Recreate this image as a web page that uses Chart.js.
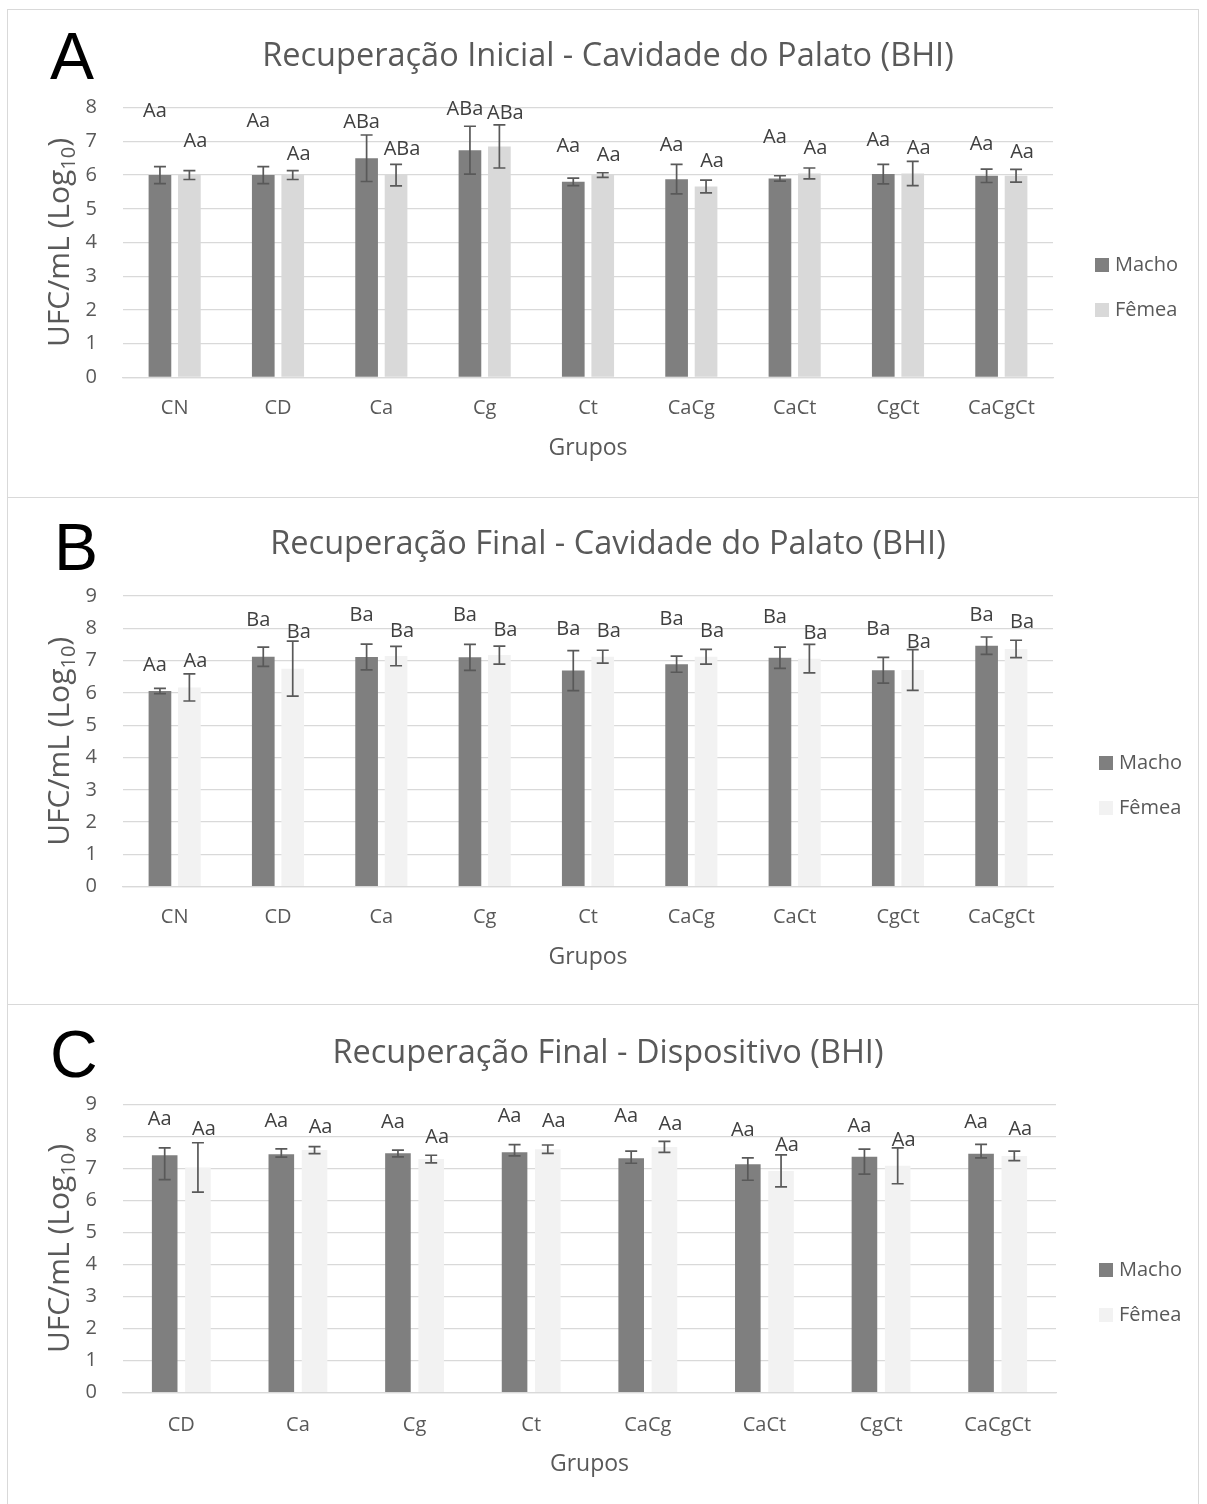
<!DOCTYPE html>
<html lang="pt">
<head>
<meta charset="utf-8">
<title>Recuperação - BHI</title>
<script src="https://cdn.jsdelivr.net/npm/chart.js@4.4.1/dist/chart.umd.min.js"></script>
<style>
  body { margin: 0; background: #fff; }
  #pagina { position: relative; width: 1207px; height: 1504px; overflow: hidden; background: #fff; }
  .painel { position: absolute; left: 7px; width: 1192px; border: 1px solid #d9d9d9; box-sizing: border-box; }
  .painel canvas { position: absolute; left: 0; top: 0; }
  .letra { position: absolute; font-family: "Liberation Sans", Arial, sans-serif; font-size: 66px; line-height: 1; color: #000; }
</style>
</head>
<body>
<div id="pagina">
  <div class="painel" style="top:9px;height:489px"><canvas id="grafA" width="1190" height="487"></canvas></div>
  <div class="painel" style="top:498px;height:507px;border-top:none"><canvas id="grafB" width="1190" height="506"></canvas></div>
  <div class="painel" style="top:1005px;height:520px;border-top:none"><canvas id="grafC" width="1190" height="499"></canvas></div>
  <div class="letra" style="left:50px;top:23px">A</div>
  <div class="letra" style="left:54px;top:514px">B</div>
  <div class="letra" style="left:50px;top:1021px">C</div>
</div>
<script>
// grupos
const gruposAB = ['CN', 'CD', 'Ca', 'Cg', 'Ct', 'CaCg', 'CaCt', 'CgCt', 'CaCgCt'];
const gruposC = ['CD', 'Ca', 'Cg', 'Ct', 'CaCg', 'CaCt', 'CgCt', 'CaCgCt'];

// A - Recuperação Inicial - Cavidade do Palato
const machoA = [6.0, 6.0, 6.5, 6.74, 5.8, 5.88, 5.9, 6.03, 5.98];
const femeaA = [6.0, 6.0, 6.0, 6.85, 6.0, 5.66, 6.05, 6.05, 5.98];
const machoErrA = [0.25, 0.25, 0.69, 0.71, 0.11, 0.44, 0.08, 0.29, 0.2];
const femeaErrA = [0.13, 0.13, 0.32, 0.64, 0.07, 0.19, 0.16, 0.36, 0.19];
const machoLetrasA = ['Aa', 'Aa', 'ABa', 'ABa', 'Aa', 'Aa', 'Aa', 'Aa', 'Aa'];
const femeaLetrasA = ['Aa', 'Aa', 'ABa', 'ABa', 'Aa', 'Aa', 'Aa', 'Aa', 'Aa'];
const machoLetraYA = [7.88, 7.59, 7.57, 7.95, 6.84, 6.87, 7.12, 7.02, 6.92];
const femeaLetraYA = [6.99, 6.63, 6.77, 7.83, 6.60, 6.42, 6.80, 6.80, 6.69];

// B - Recuperação Final - Cavidade do Palato
const machoB = [6.06, 7.12, 7.11, 7.10, 6.69, 6.89, 7.09, 6.70, 7.46];
const femeaB = [6.17, 6.75, 7.14, 7.17, 7.12, 7.12, 7.06, 6.71, 7.36];
const machoErrB = [0.08, 0.3, 0.4, 0.4, 0.62, 0.25, 0.33, 0.4, 0.27];
const femeaErrB = [0.42, 0.85, 0.3, 0.28, 0.2, 0.23, 0.44, 0.63, 0.27];
const machoLetrasB = ['Aa', 'Ba', 'Ba', 'Ba', 'Ba', 'Ba', 'Ba', 'Ba', 'Ba'];
const femeaLetrasB = ['Aa', 'Ba', 'Ba', 'Ba', 'Ba', 'Ba', 'Ba', 'Ba', 'Ba'];
const machoLetraYB = [6.86, 8.24, 8.41, 8.41, 7.97, 8.29, 8.33, 7.98, 8.41];
const femeaLetraYB = [6.97, 7.89, 7.92, 7.95, 7.92, 7.92, 7.86, 7.57, 8.19];

// C - Recuperação Final - Dispositivo
const machoC = [7.41, 7.44, 7.47, 7.50, 7.32, 7.13, 7.36, 7.46];
const femeaC = [7.03, 7.57, 7.29, 7.60, 7.67, 6.92, 7.08, 7.39];
const machoErrMenosC = [0.76, 0.09, 0.11, 0.11, 0.16, 0.50, 0.54, 0.13];
const machoErrMaisC = [0.23, 0.17, 0.10, 0.24, 0.22, 0.20, 0.24, 0.29];
const femeaErrC = [0.77, 0.11, 0.12, 0.13, 0.17, 0.5, 0.56, 0.15];
const letrasC = ['Aa', 'Aa', 'Aa', 'Aa', 'Aa', 'Aa', 'Aa', 'Aa'];
const machoLetraYC = [8.54, 8.48, 8.43, 8.64, 8.64, 8.18, 8.32, 8.43];
const femeaLetraYC = [8.22, 8.28, 7.97, 8.48, 8.39, 7.73, 7.89, 8.22];

Chart.defaults.font.family = "'Open Sans', sans-serif";
Chart.defaults.color = '#595959';

// barras de erro (desvio)
const barrasErro = {
  id: 'barrasErro',
  afterDatasetsDraw(chart) {
    const ctx = chart.ctx;
    const y = chart.scales.y;
    chart.data.datasets.forEach((ds, i) => {
      chart.getDatasetMeta(i).data.forEach((bar, j) => {
        const v = ds.data[j];
        const cima = y.getPixelForValue(v + ds.errMais[j]);
        const baixo = y.getPixelForValue(v - ds.errMenos[j]);
        ctx.save();
        ctx.strokeStyle = '#595959';
        ctx.lineWidth = 1.7;
        ctx.beginPath();
        ctx.moveTo(bar.x, cima); ctx.lineTo(bar.x, baixo);
        ctx.moveTo(bar.x - 6, cima); ctx.lineTo(bar.x + 6, cima);
        ctx.moveTo(bar.x - 6, baixo); ctx.lineTo(bar.x + 6, baixo);
        ctx.stroke();
        ctx.restore();
      });
    });
  }
};

// letras de significancia (macho um pouco a esquerda, femea a direita)
const letrasSig = {
  id: 'letrasSig',
  afterDatasetsDraw(chart, args, opts) {
    const ctx = chart.ctx;
    const y = chart.scales.y;
    ctx.save();
    ctx.font = "20px 'Open Sans'";
    ctx.fillStyle = '#404040';
    ctx.textAlign = 'center';
    ctx.textBaseline = 'middle';
    chart.data.datasets.forEach((ds, i) => {
      chart.getDatasetMeta(i).data.forEach((bar, j) => {
        ctx.fillText(ds.letras[j], bar.x + opts.desloc[i], y.getPixelForValue(ds.letraY[j]));
      });
    });
    ctx.restore();
  }
};

// legenda ao lado, como no excel
const legendaLateral = {
  id: 'legendaLateral',
  afterDraw(chart, args, opts) {
    const ctx = chart.ctx;
    const x = chart.chartArea.right + opts.dx;
    ctx.save();
    ctx.font = "20px 'Open Sans'";
    ctx.textBaseline = 'middle';
    chart.data.datasets.forEach((ds, i) => {
      const yy = opts.linhas[i];
      ctx.fillStyle = ds.backgroundColor;
      ctx.fillRect(x, yy - 7, 14, 14);
      ctx.fillStyle = '#595959';
      ctx.fillText(ds.label, x + 20, yy);
    });
    ctx.restore();
  }
};

// titulo do eixo y com subscrito
const tituloEixoY = {
  id: 'tituloEixoY',
  afterDraw(chart) {
    const {ctx, chartArea} = chart;
    const cx = chartArea.left - 64;
    const cy = (chartArea.top + chartArea.bottom) / 2;
    const fonte = "30px 'Open Sans'", fonteSub = "20px 'Open Sans'";
    ctx.save();
    ctx.font = fonte;
    const w1 = ctx.measureText('UFC/mL (Log').width;
    const w3 = ctx.measureText(')').width;
    ctx.font = fonteSub;
    const w2 = ctx.measureText('10').width;
    ctx.translate(cx, cy);
    ctx.rotate(-Math.PI / 2);
    ctx.fillStyle = '#595959';
    ctx.textBaseline = 'alphabetic';
    let x = -(w1 + w2 + w3) / 2;
    ctx.font = fonte;
    ctx.fillText('UFC/mL (Log', x, 10);
    x += w1;
    ctx.font = fonteSub;
    ctx.fillText('10', x, 16);
    x += w2;
    ctx.font = fonte;
    ctx.fillText(')', x, 10);
    ctx.restore();
  }
};

function grafico(id, g) {
  return new Chart(document.getElementById(id), {
    type: 'bar',
    data: {
      labels: g.grupos,
      datasets: [
        { label: 'Macho', data: g.macho, backgroundColor: '#7f7f7f', yAxisID: 'y',
          errMenos: g.machoErrMenos, errMais: g.machoErrMais, letras: g.machoLetras, letraY: g.machoLetraY },
        { label: 'Fêmea', data: g.femea, backgroundColor: g.corFemea, yAxisID: 'y',
          errMenos: g.femeaErr, errMais: g.femeaErr, letras: g.femeaLetras, letraY: g.femeaLetraY }
      ]
    },
    options: {
      responsive: false,
      maintainAspectRatio: false,
      devicePixelRatio: 1,
      animation: false,
      categoryPercentage: 0.57,
      barPercentage: 0.77,
      layout: { padding: { left: 10 } },
      scales: {
        x: {
          grid: { display: false, drawTicks: false },
          border: { color: '#d9d9d9', width: 1.3 },
          ticks: { font: { size: 20 }, padding: g.ticksPad, maxRotation: 0, autoSkip: false },
          title: { display: true, text: 'Grupos', font: { size: 23 }, padding: { top: 0, bottom: g.gruposPad } },
          afterFit: s => { s.height = g.alturaX; }
        },
        y: {
          min: 0, max: g.yMax,
          ticks: { stepSize: 1, font: { size: 20 }, padding: 26 },
          grid: { color: '#d9d9d9', lineWidth: 1.3, drawTicks: false },
          border: { display: false },
          afterFit: s => { s.width = 105; }
        },
        y2: {
          position: 'right',
          grid: { display: false },
          border: { display: false },
          ticks: { display: false },
          afterFit: s => { s.width = g.espacoLegenda; }
        }
      },
      plugins: {
        legend: { display: false },
        tooltip: { enabled: false },
        title: {
          display: true, text: g.titulo, color: '#595959',
          font: { size: 32.5, weight: 'normal' },
          padding: { top: g.tituloPad[0], bottom: g.tituloPad[1] }
        },
        legendaLateral: { dx: g.legendaDx, linhas: g.legendaLinhas },
        letrasSig: { desloc: [-5, 6] }
      }
    },
    plugins: [barrasErro, letrasSig, legendaLateral, tituloEixoY]
  });
}

grafico('grafA', {
  titulo: 'Recuperação Inicial - Cavidade do Palato (BHI)',
  grupos: gruposAB, yMax: 8, corFemea: '#d9d9d9',
  macho: machoA, femea: femeaA,
  machoErrMenos: machoErrA, machoErrMais: machoErrA, femeaErr: femeaErrA,
  machoLetras: machoLetrasA, femeaLetras: femeaLetrasA,
  machoLetraY: machoLetraYA, femeaLetraY: femeaLetraYA,
  tituloPad: [27.5, 31.2], ticksPad: 18.7, gruposPad: 35.2, alturaX: 119.7,
  espacoLegenda: 145, legendaDx: 42, legendaLinhas: [255, 300]
});

grafico('grafB', {
  titulo: 'Recuperação Final - Cavidade do Palato (BHI)',
  grupos: gruposAB, yMax: 9, corFemea: '#f2f2f2',
  macho: machoB, femea: femeaB,
  machoErrMenos: machoErrB, machoErrMais: machoErrB, femeaErr: femeaErrB,
  machoLetras: machoLetrasB, femeaLetras: femeaLetrasB,
  machoLetraY: machoLetraYB, femeaLetraY: femeaLetraYB,
  tituloPad: [27.5, 31.5], ticksPad: 18.3, gruposPad: 33.2, alturaX: 117.3,
  espacoLegenda: 145, legendaDx: 46, legendaLinhas: [265, 310]
});

grafico('grafC', {
  titulo: 'Recuperação Final - Dispositivo (BHI)',
  grupos: gruposC, yMax: 9, corFemea: '#f2f2f2',
  macho: machoC, femea: femeaC,
  machoErrMenos: machoErrMenosC, machoErrMais: machoErrMaisC, femeaErr: femeaErrC,
  machoLetras: letrasC, femeaLetras: letrasC,
  machoLetraY: machoLetraYC, femeaLetraY: femeaLetraYC,
  tituloPad: [29.5, 30.8], ticksPad: 20.3, gruposPad: 26.2, alturaX: 111.3,
  espacoLegenda: 142, legendaDx: 43, legendaLinhas: [265, 310]
});
</script>
</body>
</html>
